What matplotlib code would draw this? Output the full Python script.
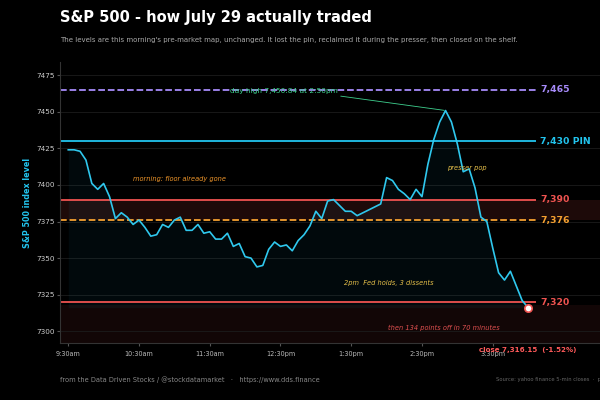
import numpy as np
import matplotlib
matplotlib.use("Agg")
import matplotlib.pyplot as plt

# 5-minute closes, 9:30am -> 4:00pm (index 0 = 9:30)
closes = [7424, 7424, 7423, 7417, 7401, 7397, 7401, 7392, 7377, 7381,
          7378, 7373, 7376, 7371, 7365, 7366, 7373, 7371, 7376, 7378,
          7369, 7369, 7373, 7367, 7368, 7363, 7363, 7367, 7358, 7360,
          7351, 7350, 7344, 7345, 7356, 7361, 7358, 7359, 7355, 7362,
          7366, 7372, 7382, 7377, 7389, 7390, 7386, 7382, 7382, 7379,
          7381, 7383, 7385, 7387, 7405, 7403, 7397, 7394, 7390, 7397,
          7392, 7414, 7431, 7443, 7450.84, 7443, 7428, 7409, 7411, 7398,
          7378, 7375, 7357, 7340, 7335, 7341, 7331, 7321, 7316.15]

tick_pos = [0, 12, 24, 36, 48, 60, 72]
tick_labels = ['9:30am', '10:30am', '11:30am', '12:30pm', '1:30pm', '2:30pm', '3:30pm']

level_values = [7465, 7430, 7390, 7376, 7320]
level_labels = ['7,465', '7,430 PIN', '7,390', '7,376', '7,320']
level_colors = ['#a78bfa', '#22c4ee', '#ef5350', '#f5a030', '#ef5350']
level_styles = ['--', '-', '-', '--', '-']

x = np.arange(len(closes))
y = np.array(closes)

BG = '#000000'
fig = plt.figure(figsize=(6, 4), dpi=100, facecolor=BG)
ax = fig.add_axes([0.1, 0.1425, 0.9, 0.7025])
ax.set_facecolor(BG)

ax.set_xlim(-1.4, 90.2)
ax.set_ylim(7292, 7484)

# zonas rojas
ax.axhspan(7376, 7390, color='#ef5350', alpha=0.12, lw=0, zorder=0)
ax.axhspan(7292, 7318, color='#ef5350', alpha=0.08, lw=0, zorder=0)

# grid horizontal tenue
for t in [7300, 7325, 7350, 7375, 7400, 7425, 7450, 7475]:
    ax.axhline(t, color='#1c1c1c', lw=0.6, zorder=0)

# niveles
x_end = 79.3
for v, lab, c, ls in zip(level_values, level_labels, level_colors, level_styles):
    ax.hlines(v, -1.4, x_end, colors=c, linestyles=ls, lw=1.3, zorder=2)
    ax.text(x_end + 0.8, v, lab, color=c, fontsize=6.7, fontweight='bold',
            va='center', ha='left')

# precio
ax.fill_between(x, y, y.min(), color='#22c4ee', alpha=0.05, lw=0, zorder=1)
ax.plot(x, y, color='#2fc8ee', lw=1.2, zorder=3)
ax.scatter([x[-1]], [y[-1]], s=28, color='white', edgecolor='#ef5350', lw=1.2, zorder=5)

# anotaciones
hi = int(np.argmax(y))
ax.annotate('day high 7,450.84 at 2:50pm', xy=(x[hi], y[hi]), xytext=(36.6, 7464),
            color='#3ecf8e', fontsize=5.3, ha='center', va='center',
            arrowprops=dict(arrowstyle='-', color='#3ecf8e', lw=0.6,
                            relpos=(0.9, 0.0), shrinkA=0, shrinkB=1))
ax.text(18.8, 7404, 'morning: floor already gone', color='#f0962a', fontsize=4.8,
        style='italic', ha='center', va='center')
ax.text(67.6, 7411.5, 'presser pop', color='#e6c04a', fontsize=4.8,
        style='italic', ha='center', va='center')
ax.text(54.4, 7333, '2pm  Fed holds, 3 dissents', color='#e6c04a', fontsize=4.8,
        style='italic', ha='center', va='center')
ax.text(63.7, 7302, 'then 134 points off in 70 minutes', color='#e05050', fontsize=4.8,
        style='italic', ha='center', va='center')

# ejes
ax.set_xticks(tick_pos)
ax.set_xticklabels(tick_labels)
ax.tick_params(axis='x', colors='#555555', labelcolor='#bbbbbb', labelsize=4.7, length=2)
ax.tick_params(axis='y', colors='#555555', labelcolor='#cccccc', labelsize=5.2, length=2, pad=2)
ax.set_yticks([7300, 7325, 7350, 7375, 7400, 7425, 7450, 7475])
for s in ['top', 'right']:
    ax.spines[s].set_visible(False)
for s in ['left', 'bottom']:
    ax.spines[s].set_color('#333333')
    ax.spines[s].set_linewidth(0.8)
ax.set_ylabel('S&P 500 index level', color='#22c4ee', fontsize=5.8, fontweight='bold',
              labelpad=3)

ax.text(x[-1], 7289, 'close 7,316.15  (-1.52%)', color='#ff5a5a', fontsize=5.1,
        fontweight='bold', ha='center', va='top', clip_on=False)

# titulos
fig.text(0.1, 0.957, 'S&P 500 - how July 29 actually traded', color='white',
         fontsize=10.5, fontweight='bold', ha='left', va='center')
fig.text(0.1, 0.9, "The levels are this morning's pre-market map, unchanged. It lost the pin, "
         "reclaimed it during the presser, then closed on the shelf.",
         color='#aaaaaa', fontsize=5.05, ha='left', va='center')

# pie
fig.text(0.1, 0.05, 'from the Data Driven Stocks / @stockdatamarket   \u00b7   https://www.dds.finance',
         color='#888888', fontsize=4.8, ha='left', va='center')
fig.text(0.827, 0.05, 'Source: yahoo finance 5-min closes  \u00b7  pre-market levels unchanged',
         color='#666666', fontsize=3.8, ha='left', va='center')

fig.savefig('out.png', dpi=100, facecolor=BG)
